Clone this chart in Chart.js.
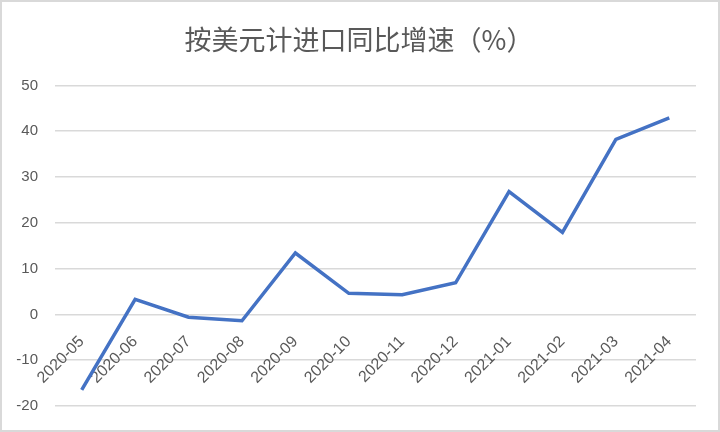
<!DOCTYPE html>
<html>
<head>
<meta charset="utf-8">
<script src="https://cdn.jsdelivr.net/npm/chart.js@4/dist/chart.umd.min.js"></script>
<style>
  html, body { margin: 0; padding: 0; background: #fff; }
  #wrap { position: relative; width: 720px; height: 432px; box-sizing: border-box; border: 2px solid #d9d9d9; }
  canvas { position: absolute; left: -2px; top: -2px; }
</style>
</head>
<body>
<div id="wrap"><canvas id="chart" width="720" height="432"></canvas></div>
<script>
// months on the x axis
const months = ['2020-05', '2020-06', '2020-07', '2020-08', '2020-09', '2020-10',
  '2020-11', '2020-12', '2021-01', '2021-02', '2021-03', '2021-04']
// import growth yoy, USD basis (%)
const importGrowth = [-16.5, 3.3, -0.6, -1.4, 13.4, 4.6, 4.3, 6.9, 26.8, 17.9, 38.2, 42.9]
const yTicks = [-20, -10, 0, 10, 20, 30, 40, 50]

const titleText = '按美元计进口同比增速（%）'
const grey = '#595959'

// nudge the title a little to the right, like the original
const titleShift = {
  id: 'titleShift',
  afterLayout(chart) {
    if (chart.titleBlock) chart.titleBlock.left += 22
  }
}

var ctx = document.getElementById('chart').getContext('2d')
var chart = new Chart(ctx, {
  type: 'line',
  plugins: [titleShift],
  data: {
    labels: months,
    datasets: [{
      label: titleText,
      data: importGrowth,
      borderColor: '#4472C4',
      backgroundColor: '#4472C4',
      borderWidth: 3.5,
      pointRadius: 0,
      tension: 0,
    }]
  },
  options: {
    responsive: false,
    animation: false,
    layout: {
      padding: { left: 0, right: 24, top: 0, bottom: 23 }
    },
    plugins: {
      legend: { display: false },
      tooltip: { enabled: false },
      title: {
        display: true,
        text: titleText,
        color: grey,
        font: { family: '"Noto Sans CJK SC", sans-serif', size: 27, weight: 'normal' },
        padding: { top: 24, bottom: 29 }
      }
    },
    scales: {
      x: {
        position: { y: 0 },
        offset: true,
        grid: { display: false, offset: true },
        border: { display: false },
        ticks: {
          color: grey,
          font: { family: '"Liberation Sans", sans-serif', size: 16 },
          minRotation: 45,
          maxRotation: 45,
          padding: 10,
          autoSkip: false
        }
      },
      y: {
        min: yTicks[0],
        max: yTicks[yTicks.length - 1],
        afterFit: (scale) => { scale.width = 55 },
        afterBuildTicks: (scale) => { scale.ticks = yTicks.map(v => ({ value: v })) },
        grid: { color: '#d9d9d9', lineWidth: 1.5, drawTicks: false },
        border: { display: false },
        ticks: {
          color: grey,
          font: { family: '"Liberation Sans", sans-serif', size: 15 },
          padding: 17
        }
      }
    }
  }
})
</script>
</body>
</html>
